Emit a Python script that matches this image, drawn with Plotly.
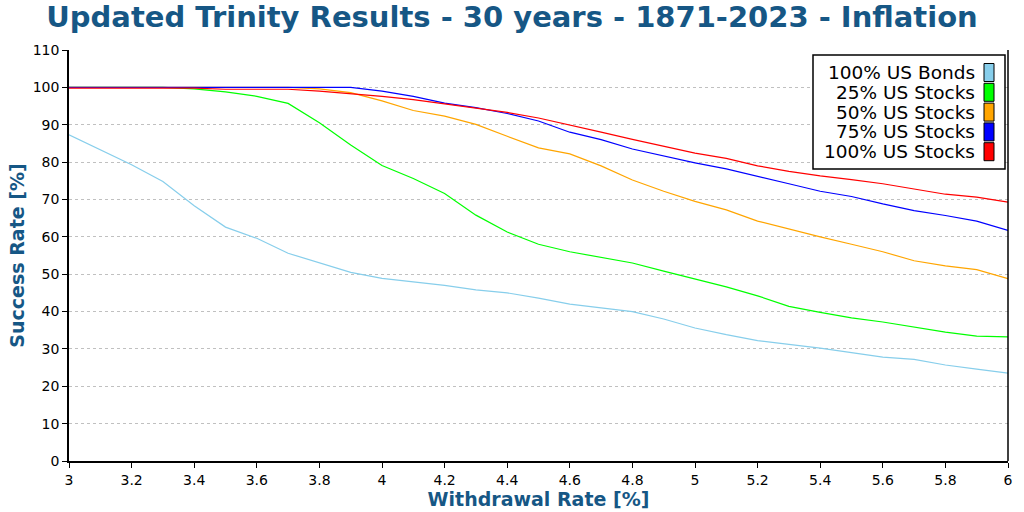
import plotly.graph_objects as go

# Withdrawal rates (x) and success rates [%]
WITHDRAWAL = [3.0, 3.1, 3.2, 3.3, 3.4, 3.5, 3.6, 3.7, 3.8, 3.9,
              4.0, 4.1, 4.2, 4.3, 4.4, 4.5, 4.6, 4.7, 4.8, 4.9,
              5.0, 5.1, 5.2, 5.3, 5.4, 5.5, 5.6, 5.7, 5.8, 5.9, 6.0]

BONDS_100 = [87.3, 83.2, 79.3, 74.8, 68.3, 62.6, 59.6, 55.6, 53.0, 50.5,
             48.9, 48.0, 47.0, 45.8, 45.0, 43.6, 42.0, 41.0, 40.0, 38.0,
             35.6, 33.8, 32.2, 31.2, 30.2, 29.0, 27.8, 27.2, 25.7, 24.6, 23.5]

STOCKS_25 = [100, 100, 100, 100, 99.6, 98.8, 97.6, 95.7, 90.5, 84.6,
             79.1, 75.6, 71.6, 65.8, 61.3, 58.0, 56.0, 54.5, 53.0, 50.8,
             48.7, 46.6, 44.2, 41.4, 39.8, 38.3, 37.2, 35.8, 34.5, 33.4, 33.2]

STOCKS_50 = [100, 100, 100, 100, 100, 100, 100, 100, 99.6, 98.6,
             96.4, 93.8, 92.3, 90.1, 86.9, 83.8, 82.2, 79.0, 75.2, 72.2,
             69.5, 67.2, 64.2, 62.0, 60.0, 58.0, 56.0, 53.6, 52.2, 51.2, 48.8]

STOCKS_75 = [100, 100, 100, 100, 100, 100, 100, 100, 100, 100,
             99.0, 97.6, 95.8, 94.6, 93.0, 91.0, 88.0, 86.0, 83.5, 81.6,
             79.8, 78.2, 76.3, 74.2, 72.2, 70.8, 68.8, 67.0, 65.7, 64.2, 61.7]

STOCKS_100 = [99.8, 99.8, 99.8, 99.8, 99.8, 99.5, 99.5, 99.5, 99.0, 98.4,
              97.6, 96.7, 95.6, 94.6, 93.3, 91.8, 89.8, 88.0, 86.1, 84.2,
              82.4, 81.0, 79.0, 77.5, 76.3, 75.3, 74.2, 72.8, 71.4, 70.6, 69.3]

SERIES_NAMES = ['100% US Bonds', '25% US Stocks', '50% US Stocks',
                '75% US Stocks', '100% US Stocks']
SERIES_COLORS = ['#87CEEB', '#00FF00', '#FFA500', '#0000FF', '#FF0000']
SERIES_VALUES = [BONDS_100, STOCKS_25, STOCKS_50, STOCKS_75, STOCKS_100]

TITLE_BLUE = '#165785'
FONT = 'DejaVu Sans'

fig = go.Figure()

for name, color, values in zip(SERIES_NAMES, SERIES_COLORS, SERIES_VALUES):
    fig.add_trace(go.Scatter(
        x=WITHDRAWAL, y=values, name=name, mode='lines',
        line=dict(color=color, width=1.2),
        showlegend=False
    ))

# Legend drawn by hand: text right-aligned, colour box on the right
# plot area spans px 69..1008 (x) and 50..461 (y)
def px_x(px):
    return (px - 69) / 939

def px_y(py):
    return (461 - py) / 411

shapes = [
    dict(type='rect', xref='paper', yref='paper',
         x0=px_x(813), x1=px_x(1005), y0=px_y(169), y1=px_y(55),
         line=dict(color='black', width=1.5), fillcolor='white', layer='above'),
    # right border of plot area
    dict(type='line', xref='paper', yref='paper', x0=1, x1=1, y0=0, y1=1,
         line=dict(color='black', width=1.5)),
]
annotations = []
for i, (name, color) in enumerate(zip(SERIES_NAMES, SERIES_COLORS)):
    cy = 72.5 + i * 19.8
    shapes.append(dict(type='rect', xref='paper', yref='paper',
                       x0=px_x(984), x1=px_x(994),
                       y0=px_y(cy + 9), y1=px_y(cy - 9),
                       line=dict(color='black', width=1), fillcolor=color,
                       layer='above'))
    annotations.append(dict(xref='paper', yref='paper', x=px_x(977), y=px_y(cy),
                            xanchor='right', yanchor='middle', text=name,
                            showarrow=False, height=19, valign='middle',
                            font=dict(family=FONT, size=18.5, color='black')))

fig.update_layout(
    width=1024, height=512,
    margin=dict(l=69, r=16, t=50, b=51),
    paper_bgcolor='white', plot_bgcolor='white',
    font=dict(family=FONT, size=14, color='black'),
    title=dict(text='<b>Updated Trinity Results - 30 years - 1871-2023 - Inflation</b>',
               x=0.5, xanchor='center', y=0.968, yanchor='middle',
               font=dict(family=FONT, size=29, color=TITLE_BLUE)),
    shapes=shapes,
    annotations=annotations,
)

fig.update_xaxes(
    range=[3, 6], dtick=0.2, tick0=3,
    showgrid=False, zeroline=False,
    showline=True, linecolor='black', linewidth=1.5,
    ticks='outside', ticklen=5, tickcolor='black',
    tickfont=dict(family=FONT, size=14, color='black'),
    title=dict(text='<b>Withdrawal Rate [%]</b>', standoff=0,
               font=dict(family=FONT, size=19, color=TITLE_BLUE)),
    automargin=False,
)
fig.update_yaxes(
    range=[0, 110], dtick=10, tick0=0,
    showgrid=True, gridcolor='#c0c0c0', griddash='3px,3px', gridwidth=1,
    zeroline=False,
    showline=True, linecolor='black', linewidth=1.5,
    ticks='outside', ticklen=5, tickcolor='black',
    tickfont=dict(family=FONT, size=14, color='black'),
    title=dict(text='<b>Success Rate [%]</b>', standoff=3,
               font=dict(family=FONT, size=19, color=TITLE_BLUE)),
    automargin=False,
)

fig.write_html("out.html", config={'displayModeBar': False},
               post_script="document.body.style.margin='0';document.body.style.padding='0';")
